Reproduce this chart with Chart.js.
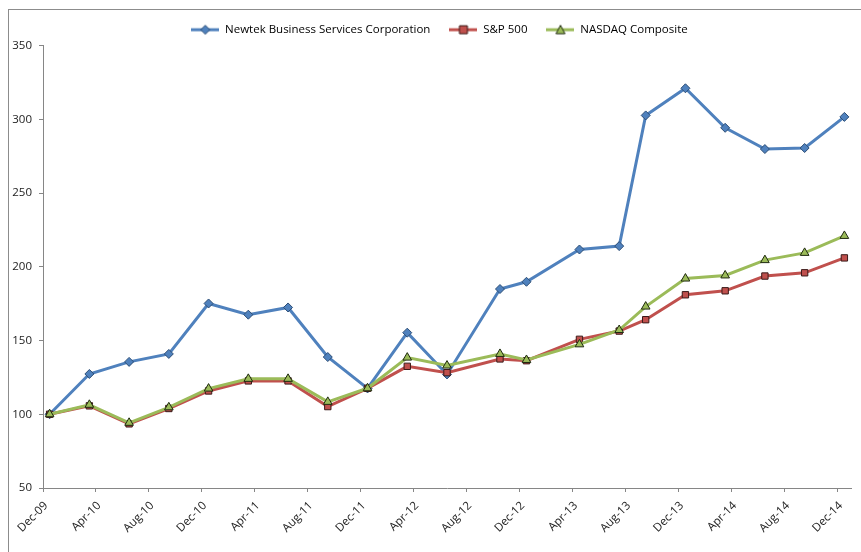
<!DOCTYPE html>
<html>
<head>
<meta charset="utf-8">
<script src="https://cdn.jsdelivr.net/npm/chart.js@4/dist/chart.umd.min.js"></script>
<style>
  html, body { margin: 0; padding: 0; background: #fff; }
  #wrap { position: relative; width: 861px; height: 552px; }
</style>
</head>
<body>
<div id="wrap"><canvas id="chart" width="861" height="552"></canvas></div>
<script>
// x axis labels (every 4 months) and the months each point falls in
const tickLabels = ['Dec-09','Apr-10','Aug-10','Dec-10','Apr-11','Aug-11','Dec-11','Apr-12','Aug-12','Dec-12','Apr-13','Aug-13','Dec-13','Apr-14','Aug-14','Dec-14'];
const pointMonths = ['Dec-09','Mar-10','Jun-10','Sep-10','Dec-10','Mar-11','Jun-11','Sep-11','Dec-11','Mar-12','Jun-12','Oct-12','Dec-12','Apr-13','Jul-13','Sep-13','Dec-13','Mar-14','Jun-14','Sep-14','Dec-14'];

const newtek = [100, 127.3, 135.5, 140.9, 175.1, 167.5, 172.4, 138.8, 117.5, 155.3, 127, 184.9, 189.8, 211.7, 214, 302.6, 321, 294.2, 279.8, 280.5, 301.6];
const sp500  = [100, 105.7, 93.5, 103.9, 115.8, 122.6, 122.6, 105.2, 117.6, 132.5, 128.2, 137.5, 136.3, 150.8, 156.4, 164.1, 181, 183.7, 193.7, 195.9, 206];
const nasdaq = [100, 106.4, 94.2, 104.7, 117.4, 124, 124, 108.4, 117.6, 138.4, 133, 140.9, 136.8, 147.4, 157.1, 173, 192, 194.1, 204.5, 209.4, 220.9];

const yTicks = [50, 100, 150, 200, 250, 300, 350];

const MONTHS = ['Jan','Feb','Mar','Apr','May','Jun','Jul','Aug','Sep','Oct','Nov','Dec'];
// months since Dec-09
function monthIndex(lbl) {
    const [m, y] = lbl.split('-');
    return (2000 + +y - 2009) * 12 + MONTHS.indexOf(m) - 11;
}
const tickValues = tickLabels.map(monthIndex);
const toPoints = vals => vals.map((v, i) => ({ x: monthIndex(pointMonths[i]) + 0.5, y: v }));

const FONT = "'Open Sans', sans-serif";

// legend swatch: short line with the marker in the middle
function swatch(color, border, style) {
    const c = document.createElement('canvas');
    c.width = 28; c.height = 12;
    const g = c.getContext('2d');
    g.strokeStyle = color; g.lineWidth = 3;
    g.beginPath(); g.moveTo(0, 6); g.lineTo(28, 6); g.stroke();
    g.fillStyle = color; g.strokeStyle = border; g.lineWidth = 1;
    g.beginPath();
    if (style === 'rectRot') { g.moveTo(14, 1.5); g.lineTo(18.5, 6); g.lineTo(14, 10.5); g.lineTo(9.5, 6); g.closePath(); }
    else if (style === 'rect') { g.rect(10, 2, 8, 8); }
    else { g.moveTo(14, 1.5); g.lineTo(18.5, 10); g.lineTo(9.5, 10); g.closePath(); }
    g.fill(); g.stroke();
    return c;
}

const series = [
    { label: 'Newtek Business Services Corporation', data: newtek, color: '#4F81BD', border: '#2c4d75', style: 'rectRot', r: 4.5, order: 3 },
    { label: 'S&P 500', data: sp500, color: '#C0504D', border: '#3a1a19', style: 'rect', r: 4.5, order: 2 },
    { label: 'NASDAQ Composite', data: nasdaq, color: '#9BBB59', border: '#1f2a10', style: 'triangle', r: 5, order: 1 }
];

const framePlugin = {
    id: 'frame',
    afterLayout(chart) {
        // legend sits a little right of centre in the original
        if (chart.legend) { chart.legend.left += 14; chart.legend.right += 14; }
    },
    beforeDraw(chart) {
        const ctx = chart.ctx;
        ctx.save();
        ctx.strokeStyle = '#8c8c8c'; ctx.lineWidth = 1;
        ctx.strokeRect(8.5, 9.5, 900, 600);
        ctx.restore();
    }
};

new Chart(document.getElementById('chart'), {
    type: 'line',
    data: {
        datasets: series.map(s => ({
            label: s.label,
            data: toPoints(s.data),
            borderColor: s.color,
            backgroundColor: s.color,
            borderWidth: 3,
            pointStyle: s.style,
            pointRadius: s.r,
            pointBackgroundColor: s.color,
            pointBorderColor: s.border,
            pointBorderWidth: 1,
            tension: 0,
            order: s.order
        }))
    },
    options: {
        responsive: false,
        animation: false,
        layout: { padding: { top: 5, right: 10, bottom: 12, left: 0 } },
        plugins: {
            tooltip: { enabled: false },
            legend: {
                position: 'top',
                labels: {
                    usePointStyle: true,
                    pointStyleWidth: 28,
                    padding: 19,
                    color: '#222',
                    font: { family: FONT, size: 11.5 },
                    generateLabels: chart => series.map((s, i) => ({
                        text: s.label,
                        pointStyle: swatch(s.color, s.border, s.style),
                        fillStyle: s.color,
                        strokeStyle: s.color,
                        lineWidth: 0,
                        hidden: false,
                        datasetIndex: i
                    }))
                }
            }
        },
        scales: {
            x: {
                type: 'linear',
                min: 0,
                max: 61,
                afterBuildTicks: scale => { scale.ticks = tickValues.map(v => ({ value: v })); },
                afterFit: scale => { scale.height = 52; },
                border: { display: true, color: '#868686', width: 1 },
                grid: { drawOnChartArea: false, drawTicks: true, tickLength: 4, color: '#868686' },
                ticks: {
                    autoSkip: false,
                    minRotation: 45,
                    maxRotation: 45,
                    padding: 7,
                    labelOffset: 3,
                    color: '#222',
                    font: { family: FONT, size: 11.5 },
                    callback: v => tickLabels[tickValues.indexOf(v)]
                }
            },
            y: {
                min: 50,
                max: 350,
                afterBuildTicks: scale => { scale.ticks = yTicks.map(v => ({ value: v })); },
                afterFit: scale => { scale.width = 43; },
                border: { display: true, color: '#868686', width: 1 },
                grid: { drawOnChartArea: false, drawTicks: true, tickLength: 4, color: '#868686' },
                ticks: {
                    padding: 7,
                    color: '#222',
                    font: { family: FONT, size: 11.5 }
                }
            }
        }
    },
    plugins: [framePlugin]
});
</script>
</body>
</html>
